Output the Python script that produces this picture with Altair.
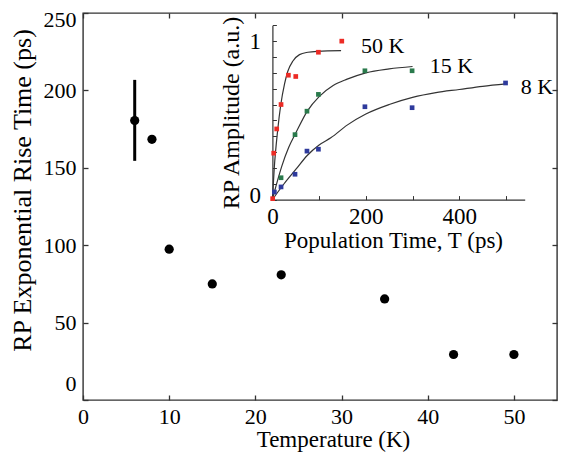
import altair as alt
import pandas as pd

# ---------------- main panel data ----------------
temp_K = [6, 8, 10, 15, 23, 35, 43, 50]
rise_ps = [180.5, 168.4, 97.4, 75.0, 80.9, 65.3, 29.4, 29.4]
err_T = [6]
err_lo = [154.5]
err_hi = [206.8]

main_x_ticks = [0, 10, 20, 30, 40, 50]
main_y_ticks = [0, 50, 100, 150, 200, 250]

# ---------------- inset data ----------------
red_t = [0.6, 2.8, 9.2, 18.5, 34.2, 50, 98.5, 148.5]
red_a = [0.006, 0.293, 0.446, 0.60, 0.785, 0.777, 0.93, 1.0]
green_t = [18.5, 48.4, 74, 98.5, 198, 299]
green_a = [0.138, 0.41, 0.558, 0.664, 0.813, 0.813]
blue_t = [4.2, 18.5, 48.4, 74, 98.5, 198, 299, 499]
blue_a = [0.048, 0.08, 0.16, 0.306, 0.318, 0.586, 0.58, 0.736]

# fitted curves
red_ct = [0, 4, 11, 18, 26, 33, 44, 58, 76, 97, 147]
red_cy = [0, 0.20, 0.43, 0.60, 0.73, 0.81, 0.875, 0.915, 0.93, 0.936, 0.94]
green_ct = [0, 10, 20, 35, 50, 75, 100, 130, 160, 200, 250, 300]
green_cy = [0, 0.11, 0.21, 0.33, 0.42, 0.56, 0.65, 0.72, 0.76, 0.80, 0.825, 0.84]
blue_ct = [0, 25, 50, 75, 100, 125, 160, 200, 250, 300, 350, 400, 450, 500]
blue_cy = [0, 0.10, 0.19, 0.28, 0.345, 0.39, 0.47, 0.54, 0.60, 0.645, 0.675, 0.695, 0.715, 0.73]

label_text = ["50 K", "15 K", "8 K"]
label_x = [236, 383, 566]
label_y = [0.97, 0.845, 0.71]

inset_x_ticks = [0, 100, 200, 300, 400, 500]
inset_x_labels = [0, 200, 400]
inset_y_ticks = [0, 0.1, 0.2, 0.3, 0.4, 0.5, 0.6, 0.7, 0.8, 0.9, 1.0, 1.1]
inset_y_labels = [0, 1]

series_names = ["50 K", "15 K", "8 K"]
series_colors = ["#ec2b25", "#2a7a4c", "#2e3a9c"]

FONT = "Liberation Serif"
W, H = 474, 387

# ---------------- tables ----------------
main_df = pd.DataFrame({"T": temp_K, "tau": rise_ps})
err_df = pd.DataFrame({"T": err_T, "lo": err_lo, "hi": err_hi})

pts_df = pd.concat([
    pd.DataFrame({"t": red_t, "a": red_a, "s": series_names[0]}),
    pd.DataFrame({"t": green_t, "a": green_a, "s": series_names[1]}),
    pd.DataFrame({"t": blue_t, "a": blue_a, "s": series_names[2]}),
])
curve_df = pd.concat([
    pd.DataFrame({"t": red_ct, "a": red_cy, "s": series_names[0]}),
    pd.DataFrame({"t": green_ct, "a": green_cy, "s": series_names[1]}),
    pd.DataFrame({"t": blue_ct, "a": blue_cy, "s": series_names[2]}),
])
lab_df = pd.DataFrame({"t": label_x, "a": label_y, "txt": label_text})

# ---------------- scales ----------------
xs = alt.Scale(domain=[0, 55], nice=False, zero=False)
ys = alt.Scale(domain=[0, 250], nice=False)
ixs = alt.Scale(domain=[0, 540], range=[189.4, 441.7], nice=False, zero=False)
iys = alt.Scale(domain=[0, 1.1], range=[186.6, 12.3], nice=False, zero=False)

common = dict(labelFont=FONT, titleFont=FONT, labelColor="black", titleColor="black",
              titleFontWeight="normal", grid=False, tickColor="#333", labelFlush=False)

main_x_axis = alt.Axis(values=main_x_ticks, orient="bottom", offset=-5, domain=False,
                       tickSize=5, tickWidth=1.3, labelPadding=6, labelFontSize=22,
                       title="Temperature (K)", titleFontSize=23, titlePadding=1,
                       titleX=250, format="d", **common)
main_y_axis = alt.Axis(values=main_y_ticks, orient="left", offset=-5, domain=False,
                       tickSize=5, tickWidth=1.3, labelPadding=7, labelFontSize=22,
                       labelOffset={"condition": [{"test": "datum.value == 0", "value": -17},
                                                  {"test": "datum.value == 250", "value": 6}],
                                    "value": 0},
                       title="RP Exponential Rise Time (ps)", titleFontSize=26,
                       titlePadding=8, titleY=177, format="d", **common)

points = alt.Chart(main_df).mark_circle(size=85, color="black", opacity=1).encode(
    x=alt.X("T:Q", scale=xs, axis=main_x_axis),
    y=alt.Y("tau:Q", scale=ys, axis=main_y_axis),
)
errbar = alt.Chart(err_df).mark_rule(strokeWidth=3, color="black").encode(
    x=alt.X("T:Q", scale=xs, axis=main_x_axis),
    y=alt.Y("lo:Q", scale=ys, axis=main_y_axis),
    y2="hi:Q",
)
main = alt.layer(points, errbar)

mirror = alt.Chart(main_df).mark_point(opacity=0).encode(
    x=alt.X("T:Q", scale=xs, axis=alt.Axis(values=main_x_ticks, orient="top", offset=-5,
                                          domain=False, labels=False, tickSize=5, tickWidth=1.3,
                                          title=None, grid=False, tickColor="#333")),
    y=alt.Y("tau:Q", scale=ys, axis=alt.Axis(values=main_y_ticks, orient="right", offset=-5,
                                            domain=False, labels=False, tickSize=5, tickWidth=1.3,
                                            title=None, grid=False, tickColor="#333")),
)

inset_x_axis = alt.Axis(values=inset_x_labels, orient="bottom", offset=-200.4, domain=True,
                        domainColor="#333", domainWidth=1.2, ticks=False, tickSize=0,
                        labelPadding=6, labelFontSize=23, title="Population Time, T (ps)",
                        titleFontSize=23, titlePadding=1, titleX=310, format="d", **common)
inset_y_axis = alt.Axis(values=inset_y_labels, orient="left", offset=-189.4, domain=True,
                        domainColor="#333", domainWidth=1.2, ticks=False, tickSize=0,
                        labelPadding=12, labelFontSize=23, title="RP Amplitude (a.u.)",
                        titleFontSize=24, titlePadding=5, format="d",
                        labelOffset={"condition": {"test": "datum.value == 0", "value": -4}, "value": 0},
                        **common)

lines = alt.Chart(curve_df).mark_line(color="#333", strokeWidth=1.2, interpolate="monotone").encode(
    x=alt.X("t:Q", scale=ixs, axis=inset_x_axis),
    y=alt.Y("a:Q", scale=iys, axis=inset_y_axis),
    detail="s:N",
)

tick_x_axis = alt.Axis(values=inset_x_ticks, orient="bottom", offset=-204.4, domain=False,
                       labels=False, tickSize=4, tickWidth=1, title=None, grid=False, tickColor="#333")
tick_y_axis = alt.Axis(values=inset_y_ticks, orient="left", offset=-193.4, domain=False,
                       labels=False, tickSize=4, tickWidth=1, title=None, grid=False, tickColor="#333")

sq = alt.Chart(pts_df).mark_square(size=22, opacity=1).encode(
    x=alt.X("t:Q", scale=ixs, axis=tick_x_axis),
    y=alt.Y("a:Q", scale=iys, axis=tick_y_axis),
    color=alt.Color("s:N", scale=alt.Scale(domain=series_names, range=series_colors), legend=None),
)
labels = alt.Chart(lab_df).mark_text(font=FONT, fontSize=22, color="black", align="center",
                                     baseline="middle").encode(
    x=alt.X("t:Q", scale=ixs, axis=tick_x_axis),
    y=alt.Y("a:Q", scale=iys, axis=tick_y_axis),
    text="txt:N",
)
inset_marks = alt.layer(sq, labels)

chart = alt.layer(main, mirror, lines, inset_marks).resolve_scale(
    x="independent", y="independent", color="independent"
).properties(
    width=W, height=H,
    autosize=alt.AutoSizeParams(type="none"),
    padding={"left": 75, "top": 5, "right": 1, "bottom": 52},
    background="white",
).configure_view(stroke="#333", strokeWidth=1.4)

chart.save("out.html", embed_options={"renderer": "svg", "actions": False})
